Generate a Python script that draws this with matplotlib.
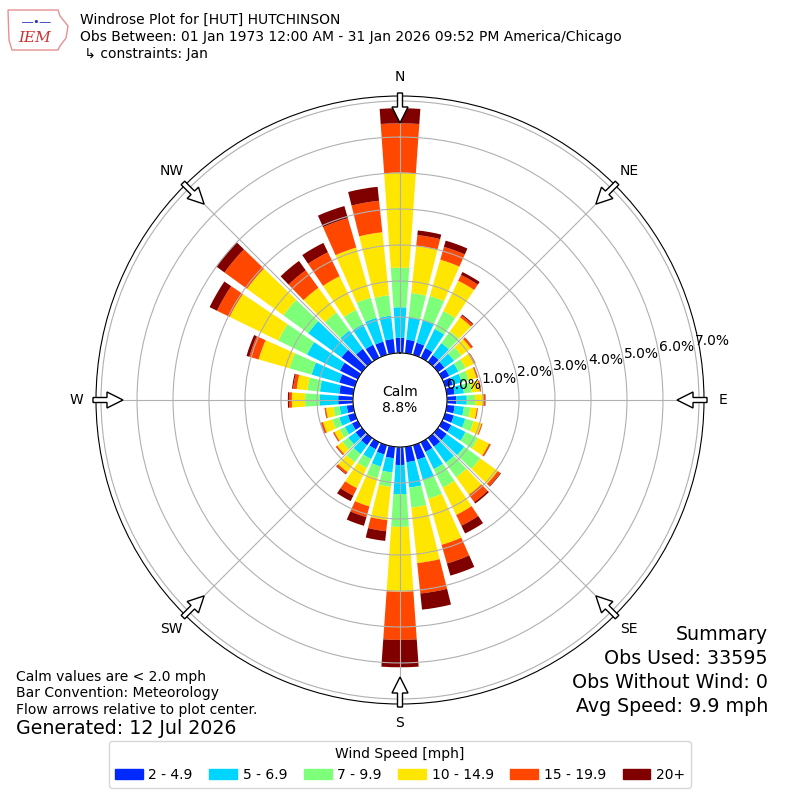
import numpy as np
import matplotlib.pyplot as plt
from matplotlib.patches import Patch, FancyArrow, Polygon

# wind directions (deg, meteorological) and speed bins
directions = np.arange(0, 360, 10)
speed_bins = ['2 - 4.9', '5 - 6.9', '7 - 9.9', '10 - 14.9', '15 - 19.9', '20+']
compass = ['N', 'NE', 'E', 'SE', 'S', 'SW', 'W', 'NW']
calm_pct = 8.8

# frequency (%) per direction for each speed bin
spd_2_5 = [0.42, 0.38, 0.35, 0.30, 0.24, 0.22, 0.22, 0.22, 0.22, 0.26, 0.22, 0.25,
           0.28, 0.30, 0.30, 0.30, 0.42, 0.43, 0.50, 0.32, 0.27, 0.22, 0.25, 0.22,
           0.18, 0.20, 0.18, 0.41, 0.39, 0.45, 0.55, 0.70, 0.45, 0.40, 0.38, 0.40]
spd_5_7 = [0.85, 0.62, 0.65, 0.59, 0.41, 0.33, 0.28, 0.26, 0.26, 0.29, 0.26, 0.33,
           0.44, 0.60, 0.55, 0.53, 0.59, 0.71, 0.81, 0.40, 0.35, 0.30, 0.30, 0.25,
           0.22, 0.25, 0.20, 0.51, 0.54, 0.80, 1.02, 1.15, 0.63, 0.64, 0.69, 0.65]
spd_7_10 = [1.10, 0.68, 0.70, 0.55, 0.40, 0.25, 0.22, 0.20, 0.22, 0.23, 0.18, 0.24,
            0.38, 0.55, 0.50, 0.57, 0.54, 0.56, 0.91, 0.40, 0.34, 0.28, 0.28, 0.20,
            0.16, 0.20, 0.17, 0.41, 0.35, 0.64, 0.89, 0.85, 0.62, 0.44, 0.58, 0.57]
spd_10_15 = [2.64, 1.32, 1.05, 0.94, 0.48, 0.33, 0.26, 0.23, 0.22, 0.23, 0.18, 0.23,
             0.35, 0.60, 0.60, 0.85, 1.33, 1.55, 1.80, 0.93, 0.81, 0.62, 0.34, 0.18,
             0.16, 0.27, 0.21, 0.37, 0.30, 0.89, 1.50, 1.25, 0.85, 1.04, 1.45, 1.76]
spd_15_20 = [1.37, 0.30, 0.37, 0.18, 0.07, 0.06, 0.04, 0.03, 0.03, 0.05, 0.03, 0.03,
             0.04, 0.09, 0.25, 0.33, 0.54, 0.85, 1.34, 0.31, 0.31, 0.23, 0.06, 0.04,
             0.03, 0.05, 0.03, 0.08, 0.10, 0.27, 0.39, 0.77, 0.60, 0.74, 0.85, 0.88]
spd_20p = [0.42, 0.13, 0.18, 0.09, 0.03, 0.01, 0.01, 0.01, 0.01, 0.01, 0.00, 0.00,
           0.01, 0.02, 0.05, 0.24, 0.35, 0.45, 0.76, 0.27, 0.25, 0.17, 0.02, 0.01,
           0.01, 0.01, 0.01, 0.03, 0.03, 0.08, 0.23, 0.28, 0.32, 0.29, 0.35, 0.39]

bins = [spd_2_5, spd_5_7, spd_7_10, spd_10_15, spd_15_20, spd_20p]
colors = plt.cm.jet(np.linspace(0, 1, 7))[1:]

fig = plt.figure(figsize=(8, 8), dpi=100)
ax = fig.add_axes([0.12, 0.12, 0.76, 0.76], projection='polar')
ax.set_theta_zero_location('N')
ax.set_theta_direction(-1)

theta = np.deg2rad(directions)
bottom = np.zeros(len(directions))
for vals, c in zip(bins, colors):
    ax.bar(theta, vals, width=np.deg2rad(8), bottom=bottom, color=c, linewidth=0)
    bottom += np.array(vals)

ax.set_ylim(0, 7.14)
ax.set_rorigin(-1.306)
ax.set_rgrids(np.arange(0, 8), labels=['%.1f%%' % v for v in range(8)], angle=80,
              fontsize=10)
ax.set_thetagrids(np.arange(0, 360, 45), labels=compass, fontsize=10)
ax.tick_params(axis='x', pad=3.5)

# flow arrows on the rim, pointing to the centre
for a in np.deg2rad(np.arange(0, 360, 45)):
    s, c = np.sin(a), np.cos(a)
    r0, r1 = 307 / 608, 277 / 608
    ax.add_patch(FancyArrow(0.5 + r0 * s, 0.5 + r0 * c, (r1 - r0) * s, (r1 - r0) * c,
                            width=5 / 608, head_width=16 / 608, head_length=16 / 608,
                            length_includes_head=True, transform=ax.transAxes,
                            clip_on=False, fc='white', ec='black', lw=1, zorder=5))

fig.text(0.5, 0.5, 'Calm\n%.1f%%' % calm_pct, ha='center', va='center', fontsize=10)

# header with a rough logo
outline = np.array([(8, 10), (58, 10), (60, 16), (68, 26), (66, 38), (60, 46),
                    (58, 50), (12, 50), (9, 40)], dtype=float)
outline[:, 0] /= 800
outline[:, 1] = 1 - outline[:, 1] / 800
fig.add_artist(Polygon(outline, closed=True, fill=False, ec='#e89090', lw=1,
                       transform=fig.transFigure))
fig.text(35 / 800, 1 - 38 / 800, 'IEM', color='#d03030', fontstyle='italic',
         family='DejaVu Serif', fontsize=11, ha='center', va='center')
fig.text(36 / 800, 1 - 22 / 800, '\u2015\u2022\u2015', color='#2030c0', fontsize=8,
         ha='center', va='center')
fig.text(80 / 800, 1 - 20 / 800, 'Windrose Plot for [HUT] HUTCHINSON', fontsize=10, va='center')
fig.text(80 / 800, 1 - 37 / 800,
         'Obs Between: 01 Jan 1973 12:00 AM - 31 Jan 2026 09:52 PM America/Chicago',
         fontsize=10, va='center')
fig.text(80 / 800, 1 - 54 / 800, ' \u21b3 constraints: Jan', fontsize=10, va='center')

# footnotes
fig.text(16 / 800, 1 - 677 / 800, 'Calm values are < 2.0 mph', fontsize=10, va='center')
fig.text(16 / 800, 1 - 693 / 800, 'Bar Convention: Meteorology', fontsize=10, va='center')
fig.text(16 / 800, 1 - 710 / 800, 'Flow arrows relative to plot center.', fontsize=10, va='center')
fig.text(16 / 800, 1 - 729 / 800, 'Generated: 12 Jul 2026', fontsize=13.7, va='center')

summary = ['Summary', 'Obs Used: 33595', 'Obs Without Wind: 0', 'Avg Speed: 9.9 mph']
for i, line in enumerate(summary):
    fig.text(768 / 800, 1 - (635 + 23.7 * i) / 800, line, fontsize=13.7, ha='right',
             va='center')

handles = [Patch(color=c) for c in colors]
fig.legend(handles, speed_bins, loc='center', bbox_to_anchor=(0.5, 1 - 764.5 / 800),
           ncol=6, title='Wind Speed [mph]', fontsize=10, title_fontsize=10,
           handlelength=2, handletextpad=0.4, columnspacing=1.2)

fig.savefig('out.png', dpi=100)
